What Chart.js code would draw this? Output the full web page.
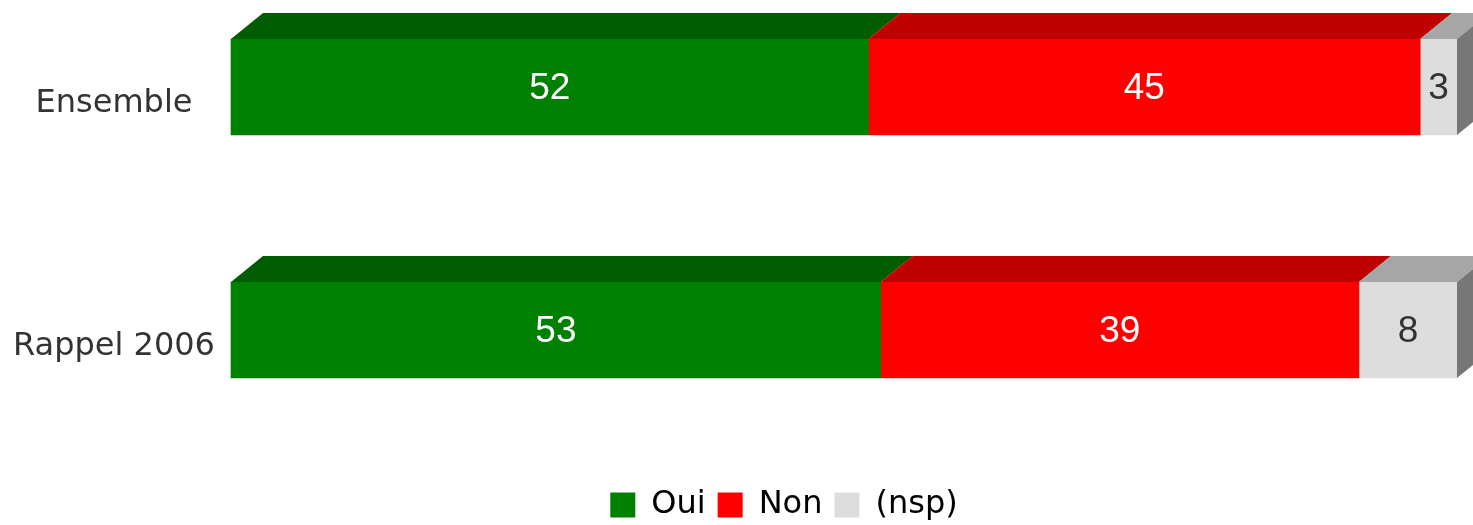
<!DOCTYPE html>
<html>
<head>
<meta charset="utf-8">
<script src="https://cdn.jsdelivr.net/npm/chart.js@4.4.0/dist/chart.umd.min.js"></script>
<style>
    html, body { margin: 0; padding: 0; background: #fff; }
    #wrap { width: 1473px; height: 525px; }
</style>
</head>
<body>
<div id="wrap"><canvas id="myChart"></canvas></div>
<script>
const categories = ['Ensemble', 'Rappel 2006'];
const seriesNames = ['Oui', 'Non', '(nsp)'];
const ouiValues = [52, 53];
const nonValues = [45, 39];
const nspValues = [3, 8];

const COLORS = {
    green: '#008000',
    greenTop: '#005c00',
    red: '#ff0000',
    redTop: '#c00000',
    grey: '#dddddd',
    greyTop: '#a6a6a6',
    greySide: '#777777'
};
const topColors = [COLORS.greenTop, COLORS.redTop, COLORS.greyTop];
const labelColors = ['#ffffff', '#ffffff', '#333333'];

// depth of the fake 3d faces
const DEPTH_X = 32;
const DEPTH_Y = 26;

function toPoints(values) {
    return values.map((v, i) => ({ x: v, y: i }));
}

function poly(ctx, pts) {
    ctx.beginPath();
    ctx.moveTo(pts[0], pts[1]);
    for (let i = 2; i < pts.length; i += 2) ctx.lineTo(pts[i], pts[i + 1]);
    ctx.closePath();
    ctx.fill();
}

const bar3d = {
    id: 'bar3d',
    afterDatasetsDraw(chart) {
        const ctx = chart.ctx;
        const n = chart.data.datasets.length;
        ctx.save();
        chart.data.datasets.forEach((ds, di) => {
            const meta = chart.getDatasetMeta(di);
            meta.data.forEach((bar) => {
                const { x, y, base, height } = bar.getProps(['x', 'y', 'base', 'height'], true);
                const top = y - height / 2;
                const bottom = y + height / 2;
                ctx.fillStyle = topColors[di];
                poly(ctx, [base, top, x, top, x + DEPTH_X, top - DEPTH_Y, base + DEPTH_X, top - DEPTH_Y]);
                if (di === n - 1) {
                    ctx.fillStyle = COLORS.greySide;
                    poly(ctx, [x, top, x + DEPTH_X, top - DEPTH_Y, x + DEPTH_X, bottom - DEPTH_Y, x, bottom]);
                }
            });
        });
        ctx.restore();
    }
};

const valueLabels = {
    id: 'valueLabels',
    afterDatasetsDraw(chart) {
        const ctx = chart.ctx;
        ctx.save();
        ctx.font = '37px "Liberation Sans", Arial, sans-serif';
        ctx.textAlign = 'center';
        ctx.textBaseline = 'middle';
        chart.data.datasets.forEach((ds, di) => {
            const meta = chart.getDatasetMeta(di);
            meta.data.forEach((bar, i) => {
                const { x, y, base } = bar.getProps(['x', 'y', 'base'], true);
                ctx.fillStyle = labelColors[di];
                ctx.fillText(String(ds.data[i].x), (x + base) / 2, y + 2);
            });
        });

        // category names on the left
        const yScale = chart.scales.y;
        ctx.font = '32px "DejaVu Sans", sans-serif';
        ctx.fillStyle = '#333333';
        categories.forEach((c, i) => {
            ctx.fillText(c, 114, yScale.getPixelForValue(i) + 17);
        });
        ctx.restore();
    }
};

const data = {
    datasets: [
        { label: seriesNames[0], data: toPoints(ouiValues), backgroundColor: COLORS.green, borderWidth: 0 },
        { label: seriesNames[1], data: toPoints(nonValues), backgroundColor: COLORS.red, borderWidth: 0 },
        { label: seriesNames[2], data: toPoints(nspValues), backgroundColor: COLORS.grey, borderWidth: 0 }
    ]
};

const config = {
    type: 'bar',
    data: data,
    options: {
        indexAxis: 'y',
        responsive: true,
        maintainAspectRatio: false,
        animation: false,
        barThickness: 96,
        clip: false,
        layout: { padding: { left: 111, right: 16, top: 0, bottom: -6 } },
        scales: {
            x: { type: 'linear', min: 0, max: 100, stacked: true, display: false },
            y: {
                type: 'linear',
                reverse: true,
                offset: false,
                min: -0.358,
                max: 1.605,
                bounds: 'data',
                stacked: true,
                display: true,
                ticks: { display: false },
                grid: { display: false },
                border: { display: false },
                afterFit(scale) { scale.width = 120; }
            }
        },
        plugins: {
            tooltip: { enabled: false },
            legend: {
                position: 'bottom',
                labels: {
                    boxWidth: 25,
                    boxHeight: 25,
                    padding: 12,
                    color: '#000000',
                    font: { family: '"DejaVu Sans", sans-serif', size: 32 }
                }
            }
        }
    },
    plugins: [bar3d, valueLabels]
};

const myChart = new Chart(document.getElementById('myChart'), config);
</script>
</body>
</html>
